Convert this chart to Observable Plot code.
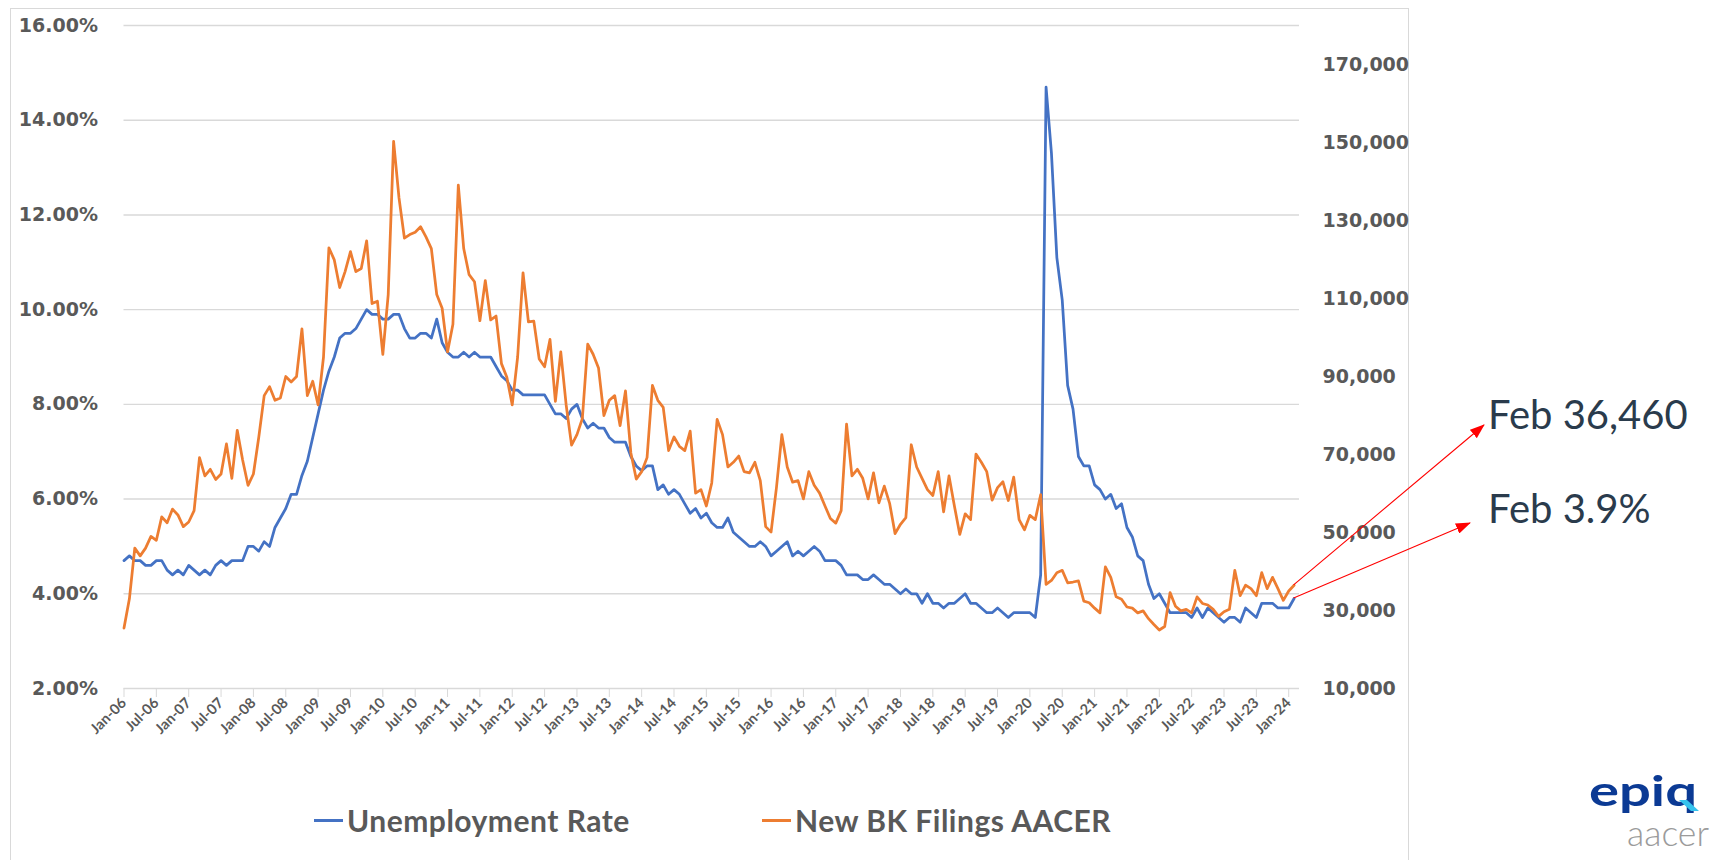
<!DOCTYPE html>
<html>
<head>
<meta charset="utf-8">
<script src="https://cdn.jsdelivr.net/npm/d3@7"></script>
<script src="https://cdn.jsdelivr.net/npm/@observablehq/plot@0.6"></script>
<style>
html,body{margin:0;padding:0;background:#fff;}
#wrap{position:relative;width:1712px;height:860px;overflow:hidden;background:#fff;}
#border{position:absolute;left:10px;top:8px;width:1399px;height:900px;border:1.5px solid #d9d9d9;box-sizing:border-box;}
#chart{position:absolute;left:0;top:0;}
#legend{position:absolute;left:0;top:798px;width:1712px;height:44px;font-family:Lato,"Open Sans",sans-serif;font-weight:700;font-size:30px;letter-spacing:0.5px;color:#595959;}
.item{position:absolute;top:0;height:44px;display:flex;align-items:center;white-space:nowrap;}
.swatch{display:inline-block;width:29px;height:3px;margin-right:4px;}
#logo{position:absolute;left:1580px;top:766px;overflow:visible;}
</style>
</head>
<body>
<div id="wrap">
  <div id="border"></div>
  <div id="chart"></div>
  <div id="legend"></div>
  <svg id="logo" width="132" height="94" viewBox="0 0 132 94">
    <text x="9" y="40" font-family="Lato" font-weight="700" font-size="42" fill="#0b3a94" textLength="108" lengthAdjust="spacingAndGlyphs">epiq</text>
    <polygon points="99,34 107,34 119,45 111,45" fill="#35c3ee"/>
    <text x="47" y="80" font-family="Lato" font-weight="300" font-size="35" fill="#9b9b9b" textLength="82" lengthAdjust="spacingAndGlyphs">aacer</text>
  </svg>
</div>
<script>
// ---------- DATA ----------
const seriesNames = ["Unemployment Rate", "New BK Filings AACER"];
const seriesColors = ["#4472C4", "#ED7D31"];

// Monthly, Jan-06 .. Feb-24 (218 months)
const unemploymentRate = [
  4.7,4.8,4.7,4.7,4.6,4.6,4.7,4.7,4.5,4.4,4.5,4.4,
  4.6,4.5,4.4,4.5,4.4,4.6,4.7,4.6,4.7,4.7,4.7,5.0,
  5.0,4.9,5.1,5.0,5.4,5.6,5.8,6.1,6.1,6.5,6.8,7.3,
  7.8,8.3,8.7,9.0,9.4,9.5,9.5,9.6,9.8,10.0,9.9,9.9,
  9.8,9.8,9.9,9.9,9.6,9.4,9.4,9.5,9.5,9.4,9.8,9.3,
  9.1,9.0,9.0,9.1,9.0,9.1,9.0,9.0,9.0,8.8,8.6,8.5,
  8.3,8.3,8.2,8.2,8.2,8.2,8.2,8.0,7.8,7.8,7.7,7.9,
  8.0,7.7,7.5,7.6,7.5,7.5,7.3,7.2,7.2,7.2,6.9,6.7,
  6.6,6.7,6.7,6.2,6.3,6.1,6.2,6.1,5.9,5.7,5.8,5.6,
  5.7,5.5,5.4,5.4,5.6,5.3,5.2,5.1,5.0,5.0,5.1,5.0,
  4.8,4.9,5.0,5.1,4.8,4.9,4.8,4.9,5.0,4.9,4.7,4.7,
  4.7,4.6,4.4,4.4,4.4,4.3,4.3,4.4,4.3,4.2,4.2,4.1,
  4.0,4.1,4.0,4.0,3.8,4.0,3.8,3.8,3.7,3.8,3.8,3.9,
  4.0,3.8,3.8,3.7,3.6,3.6,3.7,3.6,3.5,3.6,3.6,3.6,
  3.6,3.5,4.4,14.7,13.3,11.1,10.2,8.4,7.9,6.9,6.7,6.7,
  6.3,6.2,6.0,6.1,5.8,5.9,5.4,5.2,4.8,4.7,4.2,3.9,
  4.0,3.8,3.6,3.6,3.6,3.6,3.5,3.7,3.5,3.7,3.6,3.5,
  3.4,3.5,3.5,3.4,3.7,3.6,3.5,3.8,3.8,3.8,3.7,3.7,
  3.7,3.9
];

const bkFilings = [
  25500,33000,46000,44000,46000,49000,48000,54000,52500,56000,54500,51500,
  52700,55600,69200,64500,66200,63600,65000,72700,63900,76200,68600,62100,
  65000,74500,85100,87400,83900,84500,90000,88600,90000,102200,85100,88800,
  82700,95000,123000,119900,112800,116900,122000,116900,117700,124800,108700,109300,
  95700,111000,150300,135800,125500,126400,127000,128400,125800,122800,111000,107500,
  96300,103400,139100,122800,116100,114300,104300,114600,104500,105500,93300,89800,
  82700,95000,116600,104000,104200,94500,92500,99500,83600,96300,82700,72400,
  75100,79200,98300,95700,92200,80000,83900,85100,77400,86300,70400,63700,
  65600,69200,87700,83900,82100,71000,74500,72100,71000,76000,60100,61000,
  56800,62700,79000,75100,66800,68000,69600,65600,65300,68000,63300,51500,
  50100,61500,75100,66800,62900,63300,58600,65600,62100,60100,56800,53600,
  52400,55600,77800,64500,66200,63900,58600,65300,57600,61900,57400,49700,
  52100,53800,72500,66800,63900,61000,59500,65600,55300,64500,56800,49500,
  54800,53300,70100,68000,65600,58300,61500,63000,58200,64200,53300,50700,
  54400,53300,59700,36700,37700,39700,40300,37100,37300,37600,32400,32000,
  30600,29400,41200,38500,33500,32900,30900,30600,29400,29900,27900,26400,
  25000,25900,34600,31100,29900,30300,29400,33500,31800,31400,30300,28500,
  29700,30300,40300,33800,36500,35600,33800,39700,35600,38500,35600,32600,
  35000,36460
];

const tickLabels = [
  "Jan-06","Jul-06","Jan-07","Jul-07","Jan-08","Jul-08","Jan-09","Jul-09","Jan-10","Jul-10",
  "Jan-11","Jul-11","Jan-12","Jul-12","Jan-13","Jul-13","Jan-14","Jul-14","Jan-15","Jul-15",
  "Jan-16","Jul-16","Jan-17","Jul-17","Jan-18","Jul-18","Jan-19","Jul-19","Jan-20","Jul-20",
  "Jan-21","Jul-21","Jan-22","Jul-22","Jan-23","Jul-23","Jan-24"
];
const leftTicks = [2, 4, 6, 8, 10, 12, 14, 16];
const rightTicks = [10000, 30000, 50000, 70000, 90000, 110000, 130000, 150000, 170000];
const leftDomain = [2, 16];
const rightDomain = [10000, 180000];
const annotations = ["Feb 36,460", "Feb 3.9%"];

// ---------- helpers ----------
const toLeft = v => leftDomain[0] + (v - rightDomain[0]) / (rightDomain[1] - rightDomain[0]) * (leftDomain[1] - leftDomain[0]);
const fromLeft = p => rightDomain[0] + (p - leftDomain[0]) / (leftDomain[1] - leftDomain[0]) * (rightDomain[1] - rightDomain[0]);
const nMonths = unemploymentRate.length;
const blueData = unemploymentRate.map((v, i) => ({i, v}));
const orangeData = bkFilings.map((v, i) => ({i, v: toLeft(v)}));
const xTicks = tickLabels.map((_, k) => k * 6);

const axisFont = {fontFamily: "DejaVu Sans", fontSize: 19, fontWeight: "bold", fill: "#595959"};

const chart = Plot.plot({
  width: 1712,
  height: 780,
  marginLeft: 123.5,
  marginRight: 413,
  marginTop: 25,
  marginBottom: 92,
  x: {domain: [0, nMonths], axis: null},
  y: {domain: leftDomain, axis: null},
  style: {background: "transparent", overflow: "visible", color: "#595959"},
  marks: [
    Plot.ruleY(leftTicks.filter(d => d > leftDomain[0]), {stroke: "#d9d9d9", strokeWidth: 1.4}),
    Plot.ruleY([leftDomain[0]], {stroke: "#d9d9d9", strokeWidth: 1.6}),
    Plot.axisY(leftTicks, {anchor: "left", label: null, tickSize: 0, tickPadding: 26,
      tickFormat: d => d.toFixed(2) + "%", ...axisFont}),
    Plot.axisY(rightTicks.map(toLeft), {anchor: "right", label: null, tickSize: 0, tickPadding: 23, textAnchor: "start",
      tickFormat: d => d3.format(",")(Math.round(fromLeft(d) / 1000) * 1000), ...axisFont}),
    Plot.axisX(xTicks, {anchor: "bottom", label: null, tickSize: 9, tickPadding: 3, tickRotate: -45, stroke: "#d9d9d9",
      tickFormat: d => tickLabels[d / 6], fontFamily: "Lato", fontSize: 14.5, fontWeight: "bold", fill: "#595959"}),
    Plot.line(blueData, {x: "i", y: "v", stroke: seriesColors[0], strokeWidth: 2.75, strokeLinejoin: "round"}),
    Plot.line(orangeData, {x: "i", y: "v", stroke: seriesColors[1], strokeWidth: 2.75, strokeLinejoin: "round"})
  ]
});
document.getElementById("chart").appendChild(chart);

// ---------- annotations (arrows from last data points to labels) ----------
const sx = chart.scale("x"), sy = chart.scale("y");
const svg = d3.select(chart);
svg.append("defs").append("marker")
  .attr("id", "arrowhead").attr("markerUnits", "userSpaceOnUse")
  .attr("markerWidth", 15).attr("markerHeight", 11).attr("refX", 14).attr("refY", 5.5)
  .attr("orient", "auto")
  .append("path").attr("d", "M0,0 L15,5.5 L0,11 Z").attr("fill", "#ff0000");

const last = nMonths - 1;
const labelX = 1488;
const ann = [
  {text: annotations[0], baseline: 429, from: [sx.apply(last), sy.apply(toLeft(bkFilings[last]))], tipDx: -4, tipDy: -4},
  {text: annotations[1], baseline: 523, from: [sx.apply(last), sy.apply(unemploymentRate[last])], tipDx: -18, tipDy: 0}
];
ann.forEach(a => {
  svg.append("line")
    .attr("x1", a.from[0]).attr("y1", a.from[1])
    .attr("x2", labelX + a.tipDx).attr("y2", a.baseline + a.tipDy)
    .attr("stroke", "#ff0000").attr("stroke-width", 1.1)
    .attr("marker-end", "url(#arrowhead)");
  svg.append("text")
    .attr("x", labelX).attr("y", a.baseline)
    .attr("text-anchor", "start")
    .attr("font-family", "Lato").attr("font-size", 40).attr("font-weight", 400)
    .attr("fill", "#2a3b4c").text(a.text);
});

// ---------- legend ----------
const legend = d3.select("#legend");
const legendX = [314, 762];
seriesNames.forEach((name, k) => {
  const item = legend.append("div").attr("class", "item").style("left", legendX[k] + "px");
  item.append("span").attr("class", "swatch").style("background", seriesColors[k]);
  item.append("span").text(name);
});
</script>
</body>
</html>
